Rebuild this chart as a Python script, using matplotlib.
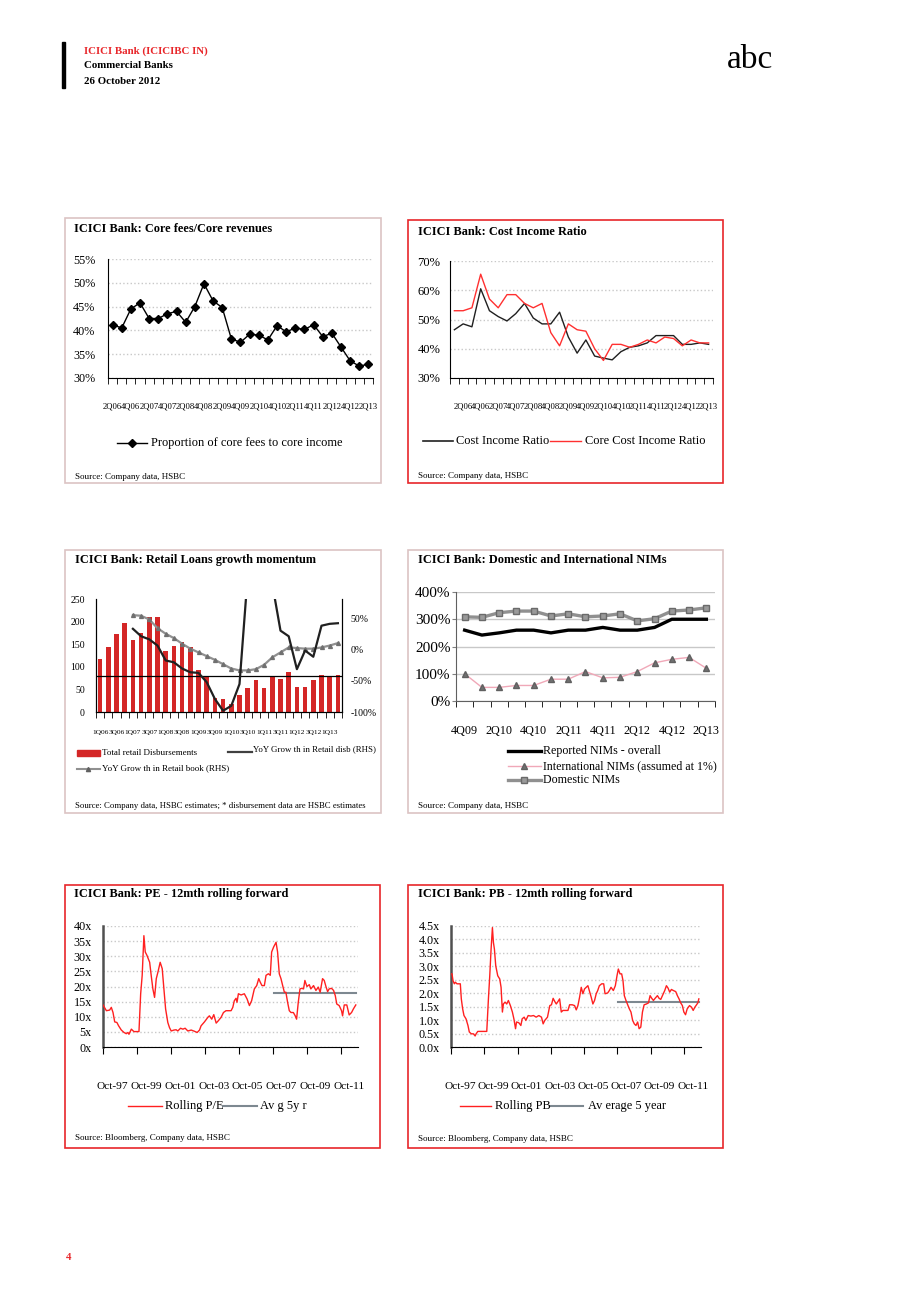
import numpy as np
import matplotlib
matplotlib.use("Agg")
from matplotlib import pyplot as plt
from matplotlib.patches import Rectangle
from matplotlib.lines import Line2D
from matplotlib.ticker import FuncFormatter
from matplotlib.transforms import ScaledTranslation

plt.rcParams['font.family'] = ['Liberation Serif', 'DejaVu Serif']

# ---- data ----

# core fees / core revenues (%), quarterly
fees_quarters = ['2Q06', '3Q06', '4Q06', '1Q07', '2Q07', '3Q07', '4Q07', '1Q08', '2Q08', '3Q08',
                 '4Q08', '1Q09', '2Q09', '3Q09', '4Q09', '1Q10', '2Q10', '3Q10', '4Q10', '1Q11',
                 '2Q11', '3Q11', '4Q11', '1Q12', '2Q12', '3Q12', '4Q12', '1Q13', '2Q13']
core_fees = [41.2, 40.5, 44.5, 45.8, 42.5, 42.5, 43.5, 44.0, 41.7, 45.0,
             49.8, 46.2, 44.8, 38.2, 37.5, 39.2, 39.0, 38.0, 41.0, 39.7,
             40.5, 40.2, 41.2, 38.7, 39.4, 36.5, 33.6, 32.5, 32.9]

# cost income ratio (%), quarterly
cir_quarters = ['1Q06'] + fees_quarters
cost_income = [46.5, 48.5, 47.5, 60.5, 53.0, 51.0, 49.5, 52.0, 55.5, 50.5,
               48.5, 48.5, 52.5, 44.0, 38.5, 43.0, 37.5, 36.8, 36.2, 39.0,
               40.5, 41.0, 42.0, 44.5, 44.5, 44.5, 41.5, 41.5, 42.0, 41.5]
core_cost_income = [53.0, 53.0, 54.0, 65.5, 57.0, 54.0, 58.5, 58.5, 55.5, 54.0,
                    55.5, 45.5, 41.0, 48.5, 46.5, 46.0, 40.0, 36.0, 41.5, 41.5,
                    40.5, 41.5, 43.0, 42.0, 44.0, 43.5, 41.0, 43.0, 42.0, 42.0]

# retail loans
retail_quarters = cir_quarters
retail_disb = [117, 143, 173, 196, 160, 175, 210, 210, 136, 147,
               155, 143, 93, 78, 30, 28, 18, 37, 53, 70,
               53, 78, 73, 88, 55, 55, 70, 82, 78, 82]
# YoY growth series start at the 5th quarter (1Q07)
yoy_disb = [34, 22, 17, 7, -17, -20, -30, -36, -37, -52,
            -79, -98, -90, -55, 120, 300, 250, 106, 31, 22,
            -31, -1, -11, 39, 42, 43]
yoy_book = [56, 55, 49, 35, 26, 19, 10, 2, -4, -10,
            -16, -23, -30, -33, -33, -31, -24, -12, -4, 4,
            3, 2, 2, 4, 7, 11]
retail_ref_level = 80

# NIMs (%)
nim_quarters = ['4Q09', '1Q10', '2Q10', '3Q10', '4Q10', '1Q11', '2Q11', '3Q11',
                '4Q11', '1Q12', '2Q12', '3Q12', '4Q12', '1Q13', '2Q13']
nim_reported = [260, 242, 250, 260, 260, 250, 260, 260, 270, 260, 260, 270, 300, 300, 300]
nim_international = [100, 50, 50, 57, 57, 80, 80, 108, 85, 87, 108, 140, 153, 160, 120]
nim_domestic = [309, 307, 324, 330, 330, 312, 320, 309, 312, 320, 294, 302, 330, 334, 342]

# PE 12m rolling forward (decimal year, value)
pe_t = [1997.75, 1997.95, 1998.14, 1998.24, 1998.34, 1998.44, 1998.57, 1998.67, 1998.83, 1998.99,
        1999.12, 1999.22, 1999.28, 1999.42, 1999.57, 1999.71, 1999.87, 1999.97, 2000.06, 2000.16,
        2000.24, 2000.34, 2000.50, 2000.59, 2000.69, 2000.79, 2000.89, 2000.99, 2001.12, 2001.24,
        2001.34, 2001.44, 2001.57, 2001.67, 2001.77, 2001.93, 2002.06, 2002.16, 2002.32, 2002.46,
        2002.59, 2002.75, 2002.95, 2003.14, 2003.30, 2003.44, 2003.53, 2003.73, 2003.93, 2004.02,
        2004.16, 2004.28, 2004.42, 2004.55, 2004.71, 2004.85, 2005.00, 2005.14, 2005.30, 2005.40,
        2005.49, 2005.59, 2005.65, 2005.73, 2005.89, 2006.08, 2006.24, 2006.38, 2006.51, 2006.67,
        2006.81, 2006.93, 2007.02, 2007.12, 2007.26, 2007.36, 2007.50, 2007.61, 2007.69, 2007.81,
        2007.95, 2008.04, 2008.14, 2008.24, 2008.34, 2008.44, 2008.53, 2008.63, 2008.73, 2008.83,
        2008.97, 2009.08, 2009.16, 2009.26, 2009.36, 2009.46, 2009.57, 2009.65, 2009.77, 2009.91,
        2010.00, 2010.16, 2010.30, 2010.44, 2010.55, 2010.69, 2010.79, 2010.89, 2010.99, 2011.08,
        2011.22, 2011.34, 2011.44, 2011.53, 2011.67, 2011.81, 2011.87, 2011.97, 2012.12, 2012.26,
        2012.40, 2012.51, 2012.65]
pe_val = [13.9, 12.0, 12.2, 13.1, 11.4, 8.3, 8.1, 7.0, 5.6, 4.8,
          4.4, 4.8, 4.2, 5.9, 5.1, 5.1, 5.1, 17.6, 23.7, 36.8,
          31.4, 30.3, 28.0, 23.7, 19.2, 16.4, 22.6, 24.8, 28.0, 25.9,
          19.2, 12.6, 8.1, 6.4, 5.3, 5.6, 5.7, 5.3, 6.2, 5.9,
          6.2, 5.3, 5.6, 5.2, 4.8, 5.6, 7.0, 8.3, 9.8, 10.3,
          9.2, 10.7, 7.9, 8.7, 9.8, 11.4, 12.0, 12.0, 12.0, 13.1,
          15.3, 16.1, 14.8, 17.6, 17.2, 17.6, 15.9, 13.7, 15.3, 19.2,
          20.3, 22.6, 21.4, 20.3, 20.3, 23.7, 24.2, 23.7, 31.4, 33.1,
          34.6, 31.4, 24.2, 22.6, 20.3, 18.1, 18.1, 14.8, 12.0, 11.4,
          11.4, 10.3, 9.2, 14.8, 19.2, 19.4, 19.2, 22.0, 20.0, 20.6,
          19.2, 20.3, 18.7, 19.8, 18.1, 22.6, 22.0, 20.0, 18.3, 19.2,
          19.4, 18.7, 17.0, 14.2, 13.7, 12.0, 10.3, 13.9, 13.9, 10.6,
          11.4, 12.6, 13.9]
pe_avg_5y = 18.0
avg_start = 2007.81

# PB 12m rolling forward
pb_t = [1997.71, 1997.81, 1997.87, 1997.95, 1998.01, 1998.11, 1998.31, 1998.37, 1998.45, 1998.53,
        1998.65, 1998.77, 1998.85, 1998.97, 1999.10, 1999.20, 1999.26, 1999.36, 1999.50, 1999.70,
        1999.90, 2000.00, 2000.08, 2000.16, 2000.24, 2000.30, 2000.36, 2000.44, 2000.56, 2000.68,
        2000.76, 2000.84, 2000.90, 2001.00, 2001.10, 2001.20, 2001.32, 2001.44, 2001.53, 2001.63,
        2001.69, 2001.83, 2001.95, 2002.03, 2002.15, 2002.25, 2002.39, 2002.55, 2002.71, 2002.87,
        2003.03, 2003.19, 2003.29, 2003.39, 2003.55, 2003.69, 2003.79, 2003.89, 2003.99, 2004.08,
        2004.18, 2004.28, 2004.38, 2004.48, 2004.62, 2004.78, 2004.88, 2005.04, 2005.18, 2005.28,
        2005.38, 2005.48, 2005.58, 2005.68, 2005.78, 2005.88, 2005.98, 2006.08, 2006.18, 2006.28,
        2006.38, 2006.48, 2006.57, 2006.67, 2006.81, 2006.93, 2007.01, 2007.17, 2007.27, 2007.37,
        2007.51, 2007.63, 2007.73, 2007.81, 2007.91, 2008.01, 2008.09, 2008.17, 2008.27, 2008.37,
        2008.47, 2008.57, 2008.67, 2008.77, 2008.87, 2008.97, 2009.06, 2009.16, 2009.26, 2009.36,
        2009.50, 2009.62, 2009.72, 2009.82, 2009.92, 2010.02, 2010.16, 2010.26, 2010.36, 2010.46,
        2010.60, 2010.70, 2010.80, 2010.90, 2011.00, 2011.12, 2011.26, 2011.36, 2011.46, 2011.56,
        2011.66, 2011.75, 2011.85, 2011.95, 2012.09, 2012.21, 2012.31, 2012.41, 2012.51, 2012.59,
        2012.65]
pb_val = [2.72, 2.72, 2.47, 2.35, 2.41, 2.35, 2.35, 1.79, 1.42, 1.17,
          1.05, 0.80, 0.56, 0.49, 0.49, 0.41, 0.49, 0.58, 0.58, 0.58,
          0.58, 1.79, 2.65, 3.64, 4.44, 3.89, 3.64, 3.02, 2.65, 2.53,
          2.22, 1.30, 1.60, 1.67, 1.60, 1.73, 1.54, 1.30, 1.05, 0.68,
          0.93, 0.90, 0.80, 1.05, 1.11, 0.99, 1.17, 1.15, 1.17, 1.11,
          1.17, 1.11, 0.86, 0.99, 1.11, 1.54, 1.57, 1.81, 1.69, 1.60,
          1.69, 1.79, 1.30, 1.36, 1.36, 1.36, 1.57, 1.57, 1.54, 1.38,
          1.54, 1.85, 2.22, 1.98, 2.16, 2.22, 2.28, 2.06, 1.85, 1.60,
          1.73, 1.98, 2.10, 2.28, 2.35, 2.35, 1.98, 2.01, 2.10, 2.22,
          2.10, 2.28, 2.65, 2.90, 2.72, 2.72, 2.47, 1.91, 1.73, 1.57,
          1.42, 1.30, 0.99, 0.86, 0.80, 0.93, 0.68, 0.74, 1.30, 1.57,
          1.60, 1.64, 1.91, 1.81, 1.73, 1.81, 1.91, 1.81, 1.77, 1.91,
          2.10, 2.28, 2.19, 2.04, 2.14, 2.10, 2.06, 1.91, 1.79, 1.64,
          1.54, 1.30, 1.20, 1.42, 1.54, 1.48, 1.36, 1.48, 1.57, 1.64,
          1.79]
pb_avg_5y = 1.67

val_years = [1997, 1999, 2001, 2003, 2005, 2007, 2009, 2011]

# ---- layout helpers (pixel coords, origin top-left) ----
W, H = 920, 1302
fig = plt.figure(figsize=(W / 100, H / 100), dpi=100)
fig.patch.set_facecolor('white')

RED = '#e8262a'
PINKGREY = '#dcc4c4'
GRID = '#c8c8c8'
TITLE_FS = 8.8
LEG_FS = 8.9
SRC_FS = 6.5


def rect(x0, y0, x1, y1):
    return [x0 / W, 1 - y1 / H, (x1 - x0) / W, (y1 - y0) / H]


def text(x, y, s, **kw):
    kw.setdefault('va', 'center')
    kw.setdefault('ha', 'left')
    fig.text(x / W, 1 - y / H, s, **kw)


def box(x0, y0, x1, y1, color):
    fig.add_artist(Rectangle((x0 / W, 1 - y1 / H), (x1 - x0) / W, (y1 - y0) / H,
                             transform=fig.transFigure, fill=False, ec=color, lw=1.2))


def legline(x0, x1, y, marker=None, mx=None, **kw):
    fig.add_artist(Line2D([x0 / W, x1 / W], [1 - y / H] * 2, transform=fig.transFigure, **kw))
    if marker:
        mkw = {k: v for k, v in kw.items() if k not in ('lw',)}
        mkw.update(marker)
        fig.add_artist(Line2D([mx / W], [1 - y / H], transform=fig.transFigure, lw=0, **mkw))


def pct(v, pos):
    return '%d%%' % v


def style_cat_axis(ax, n, ticks, labels, pad, size):
    ax.set_xlim(-0.5, n - 0.5)
    ax.set_xticks(ticks)
    ax.set_xticklabels(labels)
    ax.set_xticks(np.arange(-0.5, n), minor=True)
    ax.tick_params(axis='x', which='major', length=0, pad=pad, labelsize=size)
    ax.tick_params(axis='x', which='minor', length=4, direction='out', color='black')


def clean(ax):
    for s in ['top', 'right']:
        ax.spines[s].set_visible(False)
    ax.set_facecolor('none')


# ---- header ----
fig.add_artist(Rectangle((62 / W, 1 - 88 / H), 3 / W, 46 / H, transform=fig.transFigure,
                         color='black'))
text(84, 51, 'ICICI Bank (ICICIBC IN)', color=RED, fontsize=7.8, fontweight='bold')
text(84, 66, 'Commercial Banks', fontsize=7.8, fontweight='bold')
text(84, 81, '26 October 2012', fontsize=7.8, fontweight='bold')
text(727, 60, 'abc', fontsize=24)
text(66, 1258, '4', color=RED, fontsize=7.8, fontweight='bold')

# ---- panel 1: core fees ----
box(65, 218, 381, 483, PINKGREY)
text(74, 229, 'ICICI Bank: Core fees/Core revenues', fontsize=TITLE_FS, fontweight='bold')
ax1 = fig.add_axes(rect(108, 259, 373, 378))
clean(ax1)
ax1.plot(range(len(core_fees)), core_fees, color='black', lw=1, marker='D', ms=4.5)
ax1.set_ylim(30, 55)
ax1.set_yticks([30, 35, 40, 45, 50, 55])
ax1.yaxis.set_major_formatter(FuncFormatter(pct))
ax1.tick_params(axis='y', length=0, pad=9, labelsize=8.7)
ax1.grid(axis='y', color=GRID, ls=':', lw=1)
style_cat_axis(ax1, len(core_fees), range(0, len(core_fees), 2), fees_quarters[::2], 18, 6.2)
legline(117, 147, 443, color='black', lw=1, marker=dict(marker='D', ms=4.5, color='black'), mx=132)
text(151, 443, 'Proportion of core fees to core income', fontsize=LEG_FS)
text(75, 477, 'Source: Company data, HSBC', fontsize=SRC_FS)

# ---- panel 2: cost income ----
box(408, 220, 723, 483, RED)
text(418, 232, 'ICICI Bank: Cost Income Ratio', fontsize=TITLE_FS, fontweight='bold')
ax2 = fig.add_axes(rect(450, 261, 713, 378))
clean(ax2)
x2 = range(len(cost_income))
ax2.plot(x2, cost_income, color='#202020', lw=1)
ax2.plot(x2, core_cost_income, color='#ff3030', lw=1)
ax2.set_ylim(30, 70)
ax2.set_yticks([30, 40, 50, 60, 70])
ax2.yaxis.set_major_formatter(FuncFormatter(pct))
ax2.tick_params(axis='y', length=0, pad=7, labelsize=9)
ax2.grid(axis='y', color=GRID, ls=':', lw=1)
style_cat_axis(ax2, len(cost_income), range(1, len(cost_income), 2), cir_quarters[1::2], 18, 6.2)
legline(423, 453, 441, color='#202020', lw=1.2)
text(456, 441, 'Cost Income Ratio', fontsize=LEG_FS)
legline(550, 581, 441, color='#ff3030', lw=1)
text(585, 441, 'Core Cost Income Ratio', fontsize=LEG_FS)
text(418, 476, 'Source: Company data, HSBC', fontsize=SRC_FS)

# ---- panel 3: retail loans ----
box(65, 550, 381, 813, PINKGREY)
text(75, 560, 'ICICI Bank: Retail Loans growth momentum', fontsize=TITLE_FS, fontweight='bold')
ax3 = fig.add_axes(rect(96, 599, 342, 712))
clean(ax3)
ax3.spines['right'].set_visible(True)
n3 = len(retail_disb)
ax3.bar(range(n3), retail_disb, width=0.55, color='#d42626', zorder=2)
ax3.axhline(retail_ref_level, color='black', lw=0.9, zorder=3)
ax3.set_ylim(0, 250)
ax3.set_yticks(range(0, 251, 50))
ax3.tick_params(axis='y', length=0, pad=8, labelsize=7)
style_cat_axis(ax3, n3, range(0, n3, 2), retail_quarters[::2], 13, 5.3)
ax3r = ax3.twinx()
ax3r.set_facecolor('none')
ax3r.spines['top'].set_visible(False)
x3 = range(n3 - len(yoy_disb), n3)
ax3r.plot(x3, yoy_disb, color='#202020', lw=1.6, zorder=4)
ax3r.plot(x3, yoy_book, color='#909090', lw=1.6, marker='^', ms=2.8,
          mfc='#707070', mec='#707070', zorder=3)
ax3r.set_ylim(-100, 82)
ax3r.set_yticks([-100, -50, 0, 50])
ax3r.yaxis.set_major_formatter(FuncFormatter(pct))
ax3r.tick_params(axis='y', length=0, pad=6, labelsize=7)
fig.add_artist(Rectangle((77 / W, 1 - 756 / H), 23 / W, 6 / H, transform=fig.transFigure,
                         color='#d42626'))
text(102, 753, 'Total retail Disbursements', fontsize=6.5)
legline(228, 252, 752, color='#404040', lw=1.6)
text(253, 749, 'YoY Grow th in Retail disb (RHS)', fontsize=6.4)
legline(77, 100, 769, color='#909090', lw=1.5,
        marker=dict(marker='^', ms=3, mfc='#606060', mec='#606060'), mx=88)
text(102, 768, 'YoY Grow th in Retail book (RHS)', fontsize=6.5)
text(75, 806, 'Source: Company data, HSBC estimates; * disbursement data are HSBC estimates',
     fontsize=6.35)

# ---- panel 4: NIMs ----
box(408, 550, 723, 813, PINKGREY)
text(418, 560, 'ICICI Bank: Domestic and International NIMs', fontsize=TITLE_FS, fontweight='bold')
ax4 = fig.add_axes(rect(456, 592, 715, 701))
clean(ax4)
x4 = range(len(nim_quarters))
ax4.plot(x4, nim_domestic, color='#909090', lw=2.4, marker='s', ms=3.8,
         mfc='#9a9a9a', mec='#6a6a6a', zorder=3)
ax4.plot(x4, nim_reported, color='black', lw=2.4, zorder=3)
ax4.plot(x4, nim_international, color='#f0a8b8', lw=1, marker='^', ms=4,
         mfc='#707070', mec='#606060', zorder=3)
ax4.set_ylim(0, 400)
ax4.set_yticks(range(0, 401, 100))
ax4.yaxis.set_major_formatter(FuncFormatter(pct))
ax4.tick_params(axis='y', length=3, pad=1, labelsize=11, color='#808080')
ax4.grid(axis='y', color=GRID, lw=1)
for s in ['left', 'bottom']:
    ax4.spines[s].set_color('#606060')
style_cat_axis(ax4, len(nim_quarters), range(0, len(nim_quarters), 2), nim_quarters[::2], 17, 8.7)
legline(508, 541, 751, color='black', lw=2.4)
text(543, 751, 'Reported NIMs - overall', fontsize=8.6)
legline(508, 541, 766, color='#f0a8b8', lw=1,
        marker=dict(marker='^', ms=4, mfc='#707070', mec='#606060'), mx=524)
text(543, 766, 'International NIMs (assumed at 1%)', fontsize=8.6)
legline(508, 541, 780, color='#909090', lw=2.4,
        marker=dict(marker='s', ms=3.8, mfc='#9a9a9a', mec='#6a6a6a'), mx=524)
text(543, 780, 'Domestic NIMs', fontsize=8.6)
text(418, 806, 'Source: Company data, HSBC', fontsize=SRC_FS)


# ---- valuation panels ----
def valuation(ax, t, v, avg, ymax, step, fmt):
    clean(ax)
    ax.plot(t, v, color='#ff2020', lw=1, zorder=3)
    ax.plot([avg_start, t[-1]], [avg, avg], color='#7d8890', lw=1.5, zorder=2)
    ax.set_xlim(1997.75, 2012.78)
    ax.set_ylim(0, ymax)
    ax.set_yticks(np.arange(0, ymax + step / 2, step))
    ax.yaxis.set_major_formatter(FuncFormatter(fmt))
    ax.grid(axis='y', color=GRID, ls=':', lw=1)
    ax.set_xticks([y + 0.75 for y in val_years])
    ax.set_xticklabels(['Oct-%02d' % (y % 100) for y in val_years])
    ax.tick_params(axis='x', length=5, pad=20, labelsize=8.2)
    shift = ScaledTranslation(9 / 100, 0, fig.dpi_scale_trans)
    for lab in ax.get_xticklabels():
        lab.set_transform(lab.get_transform() + shift)
    ax.tick_params(axis='y', length=0, pad=8, labelsize=8.7)
    ax.spines['left'].set_color('#505050')
    ax.spines['left'].set_linewidth(1.8)


box(65, 885, 380, 1148, RED)
text(74, 894, 'ICICI Bank: PE - 12mth rolling forward', fontsize=TITLE_FS, fontweight='bold')
ax5 = fig.add_axes(rect(103, 926, 358, 1047))
valuation(ax5, pe_t, pe_val, pe_avg_5y, 40, 5, lambda v, p: '%dx' % v)
legline(128, 162, 1106, color='#ff2020', lw=1)
text(165, 1106, 'Rolling P/E', fontsize=LEG_FS)
legline(223, 257, 1106, color='#7d8890', lw=1.5)
text(260, 1106, 'Av g 5y r', fontsize=LEG_FS)
text(75, 1138, 'Source: Bloomberg, Company data, HSBC', fontsize=SRC_FS)

box(408, 885, 723, 1148, RED)
text(418, 894, 'ICICI Bank: PB - 12mth rolling forward', fontsize=TITLE_FS, fontweight='bold')
ax6 = fig.add_axes(rect(451, 926, 701, 1047))
valuation(ax6, pb_t, pb_val, pb_avg_5y, 4.5, 0.5, lambda v, p: '%.1fx' % v)
legline(460, 491, 1106, color='#ff2020', lw=1)
text(495, 1106, 'Rolling PB', fontsize=LEG_FS)
legline(550, 583, 1106, color='#7d8890', lw=1.5)
text(588, 1106, 'Av erage 5 year', fontsize=LEG_FS)
text(418, 1139, 'Source: Bloomberg, Company data, HSBC', fontsize=SRC_FS)

fig.savefig('out.png', dpi=100, facecolor='white')
